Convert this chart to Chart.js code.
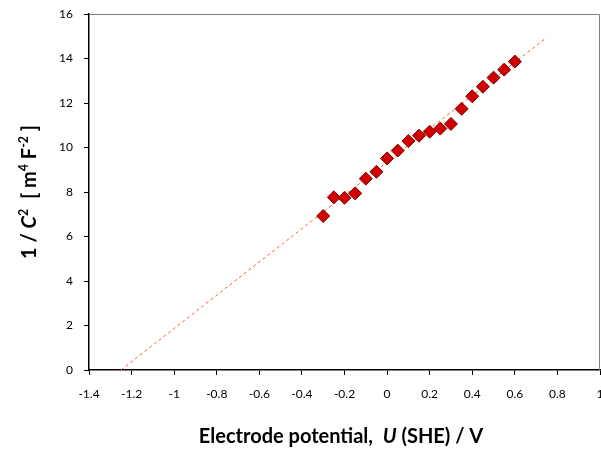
<!DOCTYPE html>
<html>
<head>
<meta charset="utf-8">
<script src="https://cdn.jsdelivr.net/npm/chart.js@4/dist/chart.umd.min.js"></script>
<style>
  html, body { margin: 0; padding: 0; background: #fff; }
  #wrap { width: 601px; height: 449px; position: relative; }
</style>
</head>
<body>
<div id="wrap"><canvas id="mottChart"></canvas></div>
<script>
// Mott-Schottky data: potential (V vs SHE) and 1/C^2
const potential = [-0.3, -0.25, -0.2, -0.15, -0.1, -0.05, 0, 0.05, 0.1, 0.15, 0.2, 0.25, 0.3, 0.35, 0.4, 0.45, 0.5, 0.55, 0.6];
const invCapSq = [6.92, 7.76, 7.74, 7.94, 8.6, 8.91, 9.51, 9.86, 10.29, 10.53, 10.71, 10.85, 11.06, 11.74, 12.3, 12.73, 13.14, 13.5, 13.86];

// linear fit line (extrapolated to the x intercept)
const fitX = [-1.25, 0.75];
const fitY = [0, 14.95];

const xTicks = [-1.4, -1.2, -1, -0.8, -0.6, -0.4, -0.2, 0, 0.2, 0.4, 0.6, 0.8, 1];
const yTicks = [0, 2, 4, 6, 8, 10, 12, 14, 16];

const FONT = 'Lato, Calibri, "Open Sans", sans-serif';

// axis titles with italic symbols and superscripts
function drawRich(ctx, parts, size) {
    let w = 0;
    parts.forEach(p => {
        const fs = p.sup ? size * 0.62 : size;
        ctx.font = (p.it ? 'italic ' : '') + 'bold ' + fs + 'px ' + FONT;
        p.w = ctx.measureText(p.t).width;
        w += p.w;
    });
    let x = -w / 2;
    parts.forEach(p => {
        const fs = p.sup ? size * 0.62 : size;
        ctx.font = (p.it ? 'italic ' : '') + 'bold ' + fs + 'px ' + FONT;
        ctx.fillText(p.t, x, p.sup ? -size * 0.38 : 0);
        x += p.w;
    });
}

const titlesPlugin = {
    id: 'titles',
    afterDraw(chart) {
        const ctx = chart.ctx;
        const a = chart.chartArea;
        ctx.save();
        // frame top/right
        ctx.strokeStyle = '#7f7f7f';
        ctx.lineWidth = 1;
        ctx.beginPath();
        ctx.moveTo(a.left, a.top + 0.5);
        ctx.lineTo(a.right - 0.5, a.top + 0.5);
        ctx.lineTo(a.right - 0.5, a.bottom);
        ctx.stroke();

        ctx.fillStyle = '#000';
        ctx.textBaseline = 'alphabetic';
        ctx.save();
        ctx.translate(341, 443);
        drawRich(ctx, [
            { t: 'Electrode potential,  ' },
            { t: 'U', it: true },
            { t: ' (SHE) / V' }
        ], 20);
        ctx.restore();

        ctx.save();
        ctx.translate(36, 192);
        ctx.rotate(-Math.PI / 2);
        drawRich(ctx, [
            { t: '1 / ' },
            { t: 'C', it: true },
            { t: '2', sup: true },
            { t: '  [ m' },
            { t: '4', sup: true },
            { t: ' F' },
            { t: '-2', sup: true },
            { t: ' ]' }
        ], 20);
        ctx.restore();
        ctx.restore();
    }
};

const fmt = v => String(Math.round(v * 10) / 10);

const ctx = document.getElementById('mottChart').getContext('2d');
const mottChart = new Chart(ctx, {
    type: 'scatter',
    data: {
        datasets: [{
            label: 'Fit',
            type: 'line',
            data: fitX.map((x, i) => ({ x: x, y: fitY[i] })),
            borderColor: '#ff5a2a',
            borderWidth: 1,
            borderDash: [3, 3],
            pointRadius: 0,
            fill: false,
            order: 2
        }, {
            label: '1/C2',
            data: potential.map((x, i) => ({ x: x, y: invCapSq[i] })),
            pointStyle: 'rectRot',
            pointRadius: 6.5,
            pointHoverRadius: 6.5,
            backgroundColor: '#d00000',
            borderColor: '#7a0000',
            borderWidth: 1,
            order: 1
        }]
    },
    options: {
        responsive: true,
        maintainAspectRatio: false,
        animation: false,
        layout: { autoPadding: false, padding: { top: 14, right: 1, left: 0, bottom: 0 } },
        plugins: {
            legend: { display: false },
            tooltip: { enabled: false }
        },
        scales: {
            x: {
                type: 'linear',
                min: -1.4,
                max: 1,
                afterBuildTicks: s => { s.ticks = xTicks.map(v => ({ value: v })); },
                afterFit: s => { s.height = 449 - 370; s.paddingLeft = 0; s.paddingRight = 0; },
                ticks: { color: '#000', font: { family: FONT, size: 12 }, padding: 12, maxRotation: 0, autoSkip: false, callback: fmt },
                grid: { drawOnChartArea: false, color: '#000', tickLength: 5, tickWidth: 1 },
                border: { color: '#000', width: 1.5 }
            },
            y: {
                type: 'linear',
                min: 0,
                max: 16,
                afterBuildTicks: s => { s.ticks = yTicks.map(v => ({ value: v })); },
                afterFit: s => { s.width = 89; s.paddingTop = 0; s.paddingBottom = 0; },
                ticks: { color: '#000', font: { family: FONT, size: 12 }, padding: 11, callback: fmt },
                grid: { drawOnChartArea: false, color: '#000', tickLength: 5, tickWidth: 1 },
                border: { color: '#000', width: 1.5 }
            }
        }
    },
    plugins: [titlesPlugin]
});
</script>
</body>
</html>
